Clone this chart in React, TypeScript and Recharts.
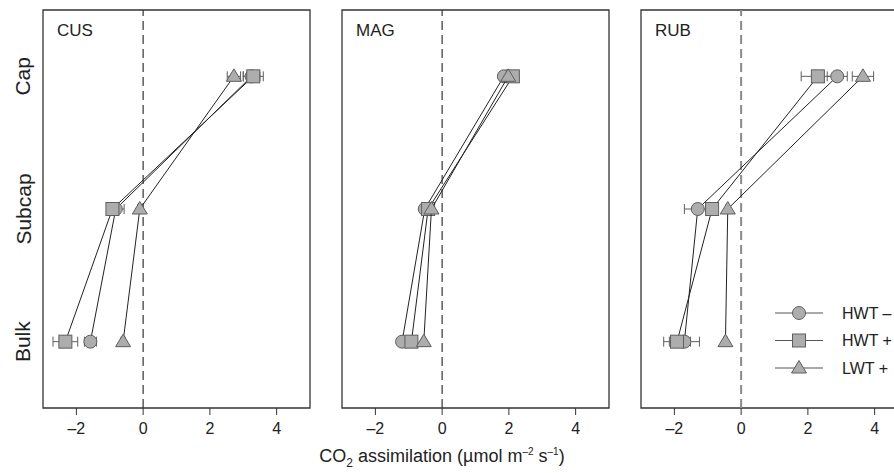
import React from 'react';
import {
  ScatterChart,
  Scatter,
  XAxis,
  YAxis,
  ZAxis,
  ErrorBar,
  ReferenceLine,
  ReferenceArea,
  Legend,
} from 'recharts';

// categories, top to bottom
const depths = ['Cap', 'Subcap', 'Bulk'];
const seriesNames = ['HWT –', 'HWT +', 'LWT +'];
const xTicks = [-2, 0, 2, 4];

// CUS
const cusHwtMinus = [3.25, -0.82, -1.58];
const cusHwtMinusErr = [0.25, 0.25, 0.18];
const cusHwtPlus = [3.3, -0.92, -2.33];
const cusHwtPlusErr = [0.3, 0.15, 0.37];
const cusLwtPlus = [2.72, -0.1, -0.6];
const cusLwtPlusErr = [0.2, 0.06, 0.06];

// MAG
const magHwtMinus = [1.85, -0.52, -1.2];
const magHwtMinusErr = [0.12, 0.1, 0.1];
const magHwtPlus = [2.12, -0.42, -0.92];
const magHwtPlusErr = [0.1, 0.1, 0.12];
const magLwtPlus = [1.98, -0.32, -0.55];
const magLwtPlusErr = [0.08, 0.08, 0.05];

// RUB
const rubHwtMinus = [2.88, -1.3, -1.7];
const rubHwtMinusErr = [0.3, 0.4, 0.45];
const rubHwtPlus = [2.3, -0.87, -1.92];
const rubHwtPlusErr = [0.5, 0.1, 0.4];
const rubLwtPlus = [3.65, -0.4, -0.47];
const rubLwtPlusErr = [0.32, 0.05, 0.05];

const toPoints = (values: number[], errs: number[]) =>
  values.map((v, i) => ({ x: v, y: depths.length - i, err: errs[i], depth: depths[i] }));

const panels = [
  {
    name: 'CUS',
    left: 0,
    zeroColor: '#333',
    series: [
      toPoints(cusHwtMinus, cusHwtMinusErr),
      toPoints(cusHwtPlus, cusHwtPlusErr),
      toPoints(cusLwtPlus, cusLwtPlusErr),
    ],
  },
  {
    name: 'MAG',
    left: 299,
    zeroColor: '#333',
    series: [
      toPoints(magHwtMinus, magHwtMinusErr),
      toPoints(magHwtPlus, magHwtPlusErr),
      toPoints(magLwtPlus, magLwtPlusErr),
    ],
  },
  {
    name: 'RUB',
    left: 598,
    zeroColor: '#8a8a8a',
    series: [
      toPoints(rubHwtMinus, rubHwtMinusErr),
      toPoints(rubHwtPlus, rubHwtPlusErr),
      toPoints(rubLwtPlus, rubLwtPlusErr),
    ],
  },
];

const FILL = '#adadad';
const EDGE = '#5e5e5e';
const shapes = ['circle', 'square', 'triangle'];

const Marker = ({ kind, cx, cy }: { kind: string; cx: number; cy: number }) => {
  if (kind === 'circle') return <circle cx={cx} cy={cy} r={6.5} fill={FILL} stroke={EDGE} />;
  if (kind === 'square')
    return <rect x={cx - 6.5} y={cy - 6.5} width={13} height={13} fill={FILL} stroke={EDGE} />;
  return (
    <polygon
      points={`${cx},${cy - 7.5} ${cx + 7.5},${cy + 5} ${cx - 7.5},${cy + 5}`}
      fill={FILL}
      stroke={EDGE}
    />
  );
};

const fmtTick = (v: number) => (v < 0 ? `–${-v}` : `${v}`);

const DepthTick = (props: any) => {
  const { y, payload } = props;
  const label = depths[depths.length - payload.value];
  return (
    <text
      x={23}
      y={y}
      transform={`rotate(-90, 23, ${y})`}
      textAnchor="middle"
      dominantBaseline="central"
      fontSize={21}
      fill="#222"
    >
      {label}
    </text>
  );
};

const LegendBox = () => (
  <svg width={130} height={80} style={{ overflow: 'visible' }}>
    {seriesNames.map((name, i) => (
      <g key={name} transform={`translate(0, ${10 + i * 27.5})`}>
        <line x1={0} x2={48} y1={0} y2={0} stroke="#555" strokeWidth={1.2} />
        <Marker kind={shapes[i]} cx={24} cy={0} />
        <text x={67} y={0} dominantBaseline="central" fontSize={16} fill="#222">
          {name}
        </text>
      </g>
    ))}
  </svg>
);

const Panel = ({ panel, index }: { panel: (typeof panels)[number]; index: number }) => (
  <div style={{ position: 'absolute', left: panel.left, top: 0 }}>
    <ScatterChart
      width={315}
      height={473}
      margin={{ top: 10, right: 5, bottom: 35, left: index === 0 ? 0 : 43 }}
    >
      <XAxis
        type="number"
        dataKey="x"
        domain={[-3, 5]}
        ticks={xTicks}
        tickFormatter={fmtTick}
        axisLine={false}
        tickSize={7}
        tickMargin={8}
        tickLine={{ stroke: '#333' }}
        tick={{ fontSize: 16, fill: '#222' }}
        allowDataOverflow
      />
      {index === 0 ? (
        <YAxis
          type="number"
          dataKey="y"
          domain={[0.5, 3.5]}
          ticks={[1, 2, 3]}
          width={43}
          axisLine={false}
          tickLine={false}
          tick={<DepthTick />}
        />
      ) : (
        <YAxis type="number" dataKey="y" domain={[0.5, 3.5]} hide />
      )}
      <ZAxis range={[100, 100]} />
      <ReferenceArea
        x1={-3}
        x2={5}
        y1={0.5}
        y2={3.5}
        fill="none"
        stroke="#333"
        strokeWidth={1.3}
        ifOverflow="visible"
        label={{ value: panel.name, position: 'insideTopLeft', offset: 14, fontSize: 17, fill: '#222' }}
      />
      <ReferenceLine
        x={0}
        stroke={panel.zeroColor}
        strokeDasharray="9 5"
        strokeWidth={index === 2 ? 2 : 1.2}
      />
      {panel.series.map((pts, i) => (
        <Scatter
          key={seriesNames[i]}
          name={seriesNames[i]}
          data={pts}
          line={{ stroke: '#222', strokeWidth: 1 }}
          lineType="joint"
          shape={(p: any) => <Marker kind={shapes[i]} cx={p.cx} cy={p.cy} />}
          isAnimationActive={false}
        >
          <ErrorBar dataKey="err" direction="x" width={5} stroke={EDGE} strokeWidth={1} />
        </Scatter>
      ))}
      {index === 2 && (
        <Legend
          layout="vertical"
          align="center"
          verticalAlign="middle"
          content={<LegendBox />}
          wrapperStyle={{ left: 177, top: 303, width: 130 }}
        />
      )}
    </ScatterChart>
  </div>
);

export default function App() {
  return (
    <div
      style={{
        position: 'absolute',
        left: 0,
        top: 0,
        width: 894,
        height: 473,
        overflow: 'hidden',
        background: '#fff',
        fontFamily: '"Liberation Sans", Arial, sans-serif',
      }}
    >
      {panels.map((p, i) => (
        <Panel key={p.name} panel={p} index={i} />
      ))}
      <div
        style={{
          position: 'absolute',
          left: 0,
          width: 884,
          top: 446,
          textAlign: 'center',
          fontSize: 18,
          color: '#222',
        }}
      >
        CO<sub style={{ fontSize: 12 }}>2</sub> assimilation (µmol m<sup style={{ fontSize: 10 }}>–2</sup> s
        <sup style={{ fontSize: 10 }}>–1</sup>)
      </div>
    </div>
  );
}
